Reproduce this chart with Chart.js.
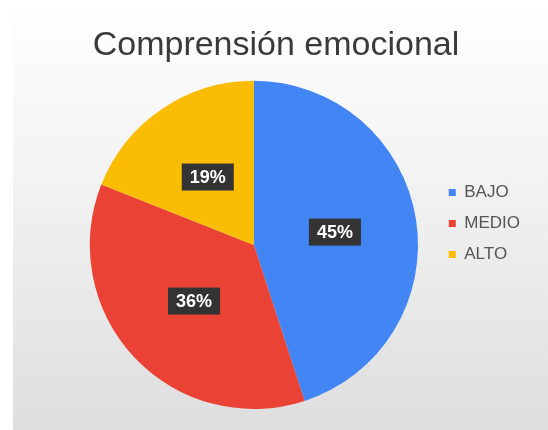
<!DOCTYPE html>
<html>
<head>
<meta charset="utf-8">
<script src="https://cdn.jsdelivr.net/npm/chart.js@4/dist/chart.umd.min.js"></script>
<style>
  html, body { margin: 0; padding: 0; background: #fff; }
  #wrap {
    position: absolute; left: 13px; top: 0; width: 535px; height: 430px;
    background: linear-gradient(to bottom, #ffffff 0%, #f3f3f3 40%, #dedede 100%);
  }
  canvas { position: absolute; left: 0; top: 0; }
</style>
</head>
<body>
<div id="wrap"></div>
<canvas id="chart-comprension" width="548" height="430"></canvas>
<script>
const categories = ["BAJO", "MEDIO", "ALTO"];
const values = [45, 36, 19];
const colors = ["#4285f4", "#ea4335", "#fbbc04"];

// percent labels in dark boxes
const percentLabels = {
    id: "percentLabels",
    afterDatasetsDraw(chart) {
        const ctx = chart.ctx;
        const meta = chart.getDatasetMeta(0);
        const total = values.reduce((a, b) => a + b, 0);
        ctx.save();
        ctx.font = "bold 18px 'Liberation Sans', Arial, sans-serif";
        ctx.textAlign = "center";
        ctx.textBaseline = "middle";
        meta.data.forEach((arc, i) => {
            const pos = arc.tooltipPosition();
            const txt = Math.round(values[i] / total * 100) + "%";
            const w = ctx.measureText(txt).width + 16;
            const h = 27;
            ctx.fillStyle = "#333333";
            ctx.fillRect(pos.x - w / 2, pos.y - h / 2, w, h);
            ctx.fillStyle = "#ffffff";
            ctx.fillText(txt, pos.x, pos.y + 1);
        });
        ctx.restore();
    },
};

// title sits centred on the whole slide, legend a bit above the pie centre
const nudge = {
    id: "nudge",
    afterLayout(chart) {
        const t = chart.titleBlock;
        t.left = 0;
        t.right = 552;
        const lg = chart.legend;
        lg.top += 19;
        lg.bottom += 19;
    },
};

const chartData = {
    labels: categories,
    datasets: [
        {
            data: values,
            backgroundColor: colors,
            borderWidth: 0,
        },
    ],
};

const config = {
    type: "pie",
    data: chartData,
    options: {
        responsive: false,
        animation: false,
        layout: {
            padding: { left: 73, right: 18, top: 0, bottom: 21 },
        },
        plugins: {
            title: {
                display: true,
                text: "Comprensión emocional",
                color: "#3a3a3a",
                font: { family: "'Liberation Sans', Arial, sans-serif", size: 34, weight: "normal" },
                padding: { top: 25, bottom: 15 },
            },
            legend: {
                position: "right",
                labels: {
                    boxWidth: 7,
                    boxHeight: 7,
                    padding: 14,
                    color: "#555555",
                    font: { family: "'Liberation Sans', Arial, sans-serif", size: 17 },
                },
            },
            tooltip: { enabled: false },
        },
    },
    plugins: [percentLabels, nudge],
};

const myChart = new Chart(document.getElementById("chart-comprension"), config);
</script>
</body>
</html>
